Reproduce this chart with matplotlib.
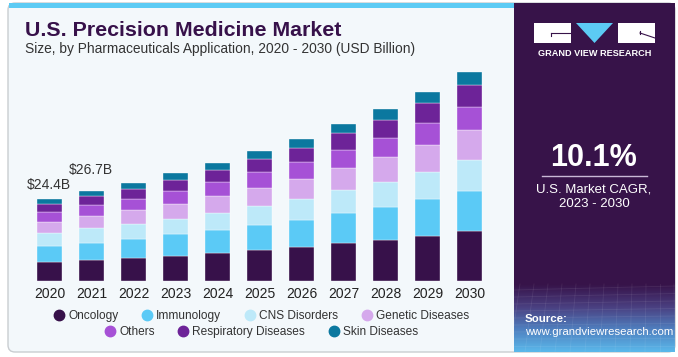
"""
U.S. Precision Medicine Market - stacked bars by pharmaceuticals application
"""

import numpy as np
import matplotlib.pyplot as plt
from matplotlib.patches import FancyBboxPatch, Rectangle, Polygon
from matplotlib.lines import Line2D
from matplotlib.colors import LinearSegmentedColormap

plt.rcParams['font.family'] = ['Liberation Sans', 'DejaVu Sans']

years = ['2020', '2021', '2022', '2023', '2024', '2025', '2026', '2027', '2028', '2029', '2030']
segments = ['Oncology', 'Immunology', 'CNS Disorders', 'Genetic Diseases',
            'Others', 'Respiratory Diseases', 'Skin Diseases']

# values in USD billion
oncology = [5.75, 6.35, 6.84, 7.54, 8.43, 9.22, 10.02, 11.21, 12.20, 13.49, 14.78]
immunology = [4.56, 5.06, 5.65, 6.35, 6.74, 7.54, 8.23, 9.02, 9.92, 10.91, 12.10]
cns = [3.87, 4.26, 4.56, 4.56, 5.06, 5.55, 6.15, 6.74, 7.34, 8.13, 9.02]
genetic = [3.27, 3.57, 3.97, 4.46, 4.96, 5.36, 5.85, 6.74, 7.44, 8.03, 8.93]
others = [2.98, 3.37, 3.47, 3.97, 4.26, 4.76, 5.16, 5.26, 5.65, 6.35, 6.94]
respiratory = [2.38, 2.58, 2.88, 3.27, 3.57, 3.87, 4.26, 4.96, 5.36, 5.95, 6.55]
skin = [1.49, 1.59, 1.79, 1.88, 2.18, 2.38, 2.58, 2.78, 3.27, 3.47, 3.77]

labels = {0: '$24.4B', 1: '$26.7B'}

colors = ['#37114a', '#5bcaf6', '#bde9f9', '#d5a9ec', '#a651d6', '#6d2398', '#0b789f']

bg = '#f3f8fb'
panel = '#371349'

W, H = 678, 357
fig = plt.figure(figsize=(W / 100, H / 100), dpi=100)
fig.patch.set_facecolor('white')

# background layer in pixel coordinates
back = fig.add_axes([0, 0, 1, 1])
back.set_xlim(0, W)
back.set_ylim(H, 0)
back.axis('off')

back.add_patch(FancyBboxPatch((8, 3), 667, 349, boxstyle='round,pad=0,rounding_size=7',
                              facecolor=bg, edgecolor='#c9cdd1', linewidth=1.0))
back.add_patch(Rectangle((9, 3), 506, 5, facecolor='#5ccbf4', edgecolor='none'))
back.add_patch(Rectangle((514, 3), 161, 349, facecolor=panel, edgecolor='none'))

# gradient at the bottom of the side panel
grad = np.linspace(0, 1, 100)[:, None]
cmap = LinearSegmentedColormap.from_list('g', [panel, '#4a3f80', '#4f7fbf', '#5ab8ea'])
back.imshow(grad, cmap=cmap, extent=(514, 675, 352, 284), aspect='auto', zorder=1)
for k in range(9):
    back.plot([514, 675], [290 + k * 7, 286 + k * 7.5], color='white', alpha=0.08, lw=0.6, zorder=2)
for k in range(12):
    back.plot([520 + k * 14, 510 + k * 15], [284, 352], color='white', alpha=0.08, lw=0.6, zorder=2)

# logo
back.add_patch(Rectangle((534, 23), 37, 20, facecolor='white', edgecolor='none', zorder=3))
back.add_patch(Polygon([(576, 23), (613, 23), (594.5, 43)], closed=True,
                       facecolor='#5ccbf4', edgecolor='none', zorder=3))
back.add_patch(Rectangle((618, 23), 37, 20, facecolor='white', edgecolor='none', zorder=3))
back.plot([551, 571], [33, 33], color=panel, lw=0.8, zorder=4)
back.plot([551, 551], [33, 36], color=panel, lw=0.8, zorder=4)
back.plot([640, 655], [33, 38], color=panel, lw=0.8, zorder=4)
back.plot([640, 640], [31, 34], color=panel, lw=0.8, zorder=4)
back.text(594.5, 53, 'GRAND VIEW RESEARCH', color='white', fontsize=6.6, fontweight='bold',
          ha='center', va='center', zorder=3)

back.text(594, 158, '10.1%', color='white', fontsize=22, fontweight='bold',
          ha='center', va='center', zorder=3)
back.plot([542, 647], [176, 176], color='#c9b9d6', lw=1.0, zorder=3)
back.text(594, 190, 'U.S. Market CAGR,', color='white', fontsize=9.5,
          ha='center', va='center', zorder=3)
back.text(594, 204, '2023 - 2030', color='white', fontsize=9.5,
          ha='center', va='center', zorder=3)
back.text(525, 319, 'Source:', color='white', fontsize=8.2, fontweight='bold',
          ha='left', va='center', zorder=3)
back.text(525, 332, 'www.grandviewresearch.com', color='white', fontsize=8.2,
          ha='left', va='center', zorder=3)

back.text(25, 31, 'U.S. Precision Medicine Market', color='#37114a', fontsize=15.4,
          fontweight='heavy', ha='left', va='center')
back.text(25, 49, 'Size, by Pharmaceuticals Application, 2020 - 2030 (USD Billion)',
          color='#333333', fontsize=9.9, ha='left', va='center')

# bar chart
px_per_b = 3.3613
x0_px, step_px = 49.7, 42.0
left_px, right_px, base_px, top_px = 20, 500, 281, 60
ax = fig.add_axes([left_px / W, (H - base_px) / H, (right_px - left_px) / W, (base_px - top_px) / H])
ax.patch.set_alpha(0)
ax.set_xlim((left_px - x0_px) / step_px, (right_px - x0_px) / step_px)
ax.set_ylim(0, (base_px - top_px) / px_per_b)

x = np.arange(len(years))
series = [oncology, immunology, cns, genetic, others, respiratory, skin]
bottom = np.zeros(len(years))
for vals, c, name in zip(series, colors, segments):
    ax.bar(x, vals, width=0.585, bottom=bottom, color=c, edgecolor='#ffffff',
           linewidth=0.25, label=name)
    bottom += np.array(vals)

offsets = {0: 4.3, 1: 6.2}
for i, txt in labels.items():
    ax.text(x[i] - 0.02, bottom[i] + offsets[i], txt, ha='center', va='center',
            fontsize=10, color='#333333')

ax.set_xticks(x)
ax.set_xticklabels(years, fontsize=10, color='#222222')
ax.tick_params(axis='x', length=0, pad=4)
ax.set_yticks([])
for s in ax.spines.values():
    s.set_visible(False)

# legend in two centred rows
def handle(c):
    return Line2D([], [], marker='o', linestyle='none', markersize=7.5,
                  markerfacecolor=c, markeredgecolor=c)

leg_kw = dict(loc='center', frameon=False, fontsize=8.6, handletextpad=0.25,
              columnspacing=1.9, handlelength=1.0)
leg1 = fig.legend([handle(c) for c in colors[:4]], segments[:4], ncol=4,
                  bbox_to_anchor=(261 / W, 1 - 316 / H), **leg_kw)
leg2 = fig.legend([handle(c) for c in colors[4:]], segments[4:], ncol=3,
                  bbox_to_anchor=(261 / W, 1 - 332 / H), **leg_kw)
for lg in (leg1, leg2):
    for t in lg.get_texts():
        t.set_color('#333333')

fig.savefig('out.png', dpi=100, facecolor='white')
